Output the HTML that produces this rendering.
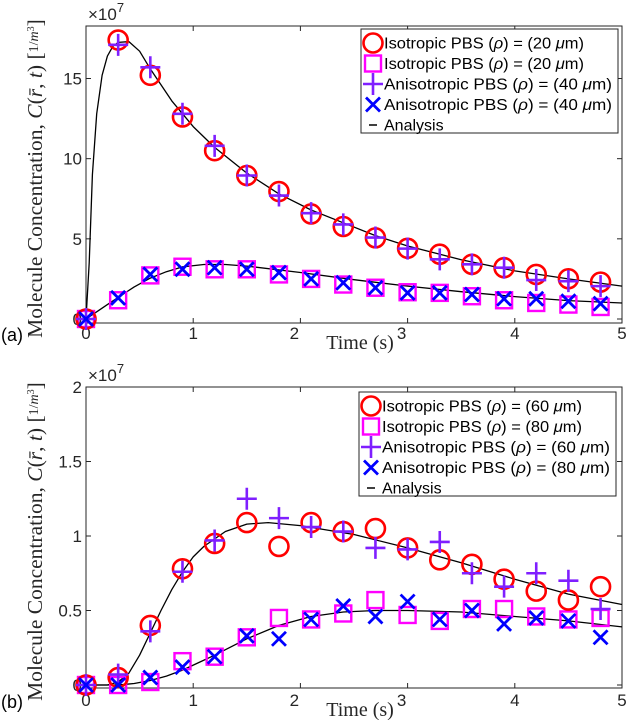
<!DOCTYPE html>
<html><head><meta charset="utf-8">
<style>
html,body{margin:0;padding:0;background:#fff;}
svg{display:block;font-family:"Liberation Sans",sans-serif;}
.tk{font-size:17px;fill:#262626;}
.lg{font-size:16px;fill:#000;}
.ser{font-family:"Liberation Serif","DejaVu Serif",serif;}
</style></head>
<body>
<svg id="chart" width="628" height="720" viewBox="0 0 628 720" xmlns="http://www.w3.org/2000/svg"></svg>
<script>
const times = [0,0.3,0.6,0.9,1.2,1.5,1.8,2.1,2.4,2.7,3.0,3.3,3.6,3.9,4.2,4.5,4.8];
// Panel (a) values in units of 1e7
const aIsoNear = [0,17.4,15.2,12.6,10.5,8.95,7.95,6.55,5.77,5.06,4.41,4.04,3.41,3.2,2.78,2.51,2.3];
const aIsoFar = [0,1.17,2.72,3.26,3.1,3.1,2.78,2.5,2.15,1.95,1.67,1.63,1.42,1.17,1.0,0.9,0.75];
const aAniNear = [0,17.1,15.7,12.8,10.8,8.95,7.7,6.6,5.9,5.08,4.39,3.72,3.41,3.2,2.43,2.36,2.05];
const aAniFar = [0,1.32,2.78,3.1,3.2,3.1,2.89,2.5,2.26,1.95,1.63,1.63,1.53,1.26,1.26,1.11,0.96];
const aCurveT = [0,0.03,0.06,0.1,0.15,0.2,0.25,0.3,0.4,0.5,0.6,0.8,1.0,1.2,1.5,1.8,2.1,2.4,2.7,3.0,3.5,4.0,4.5,5.0];
const aCurveNear = [0,3.5,9,12.8,15.2,16.4,17.0,17.25,17.3,16.7,15.6,13.6,12.0,10.7,9.1,7.8,6.8,6.0,5.2,4.55,3.7,3.0,2.5,2.05];
const aCurveFarT = [0,0.1,0.2,0.3,0.45,0.6,0.75,0.9,1.1,1.3,1.5,2.0,2.5,3.0,3.5,4.0,4.5,5.0];
const aCurveFar = [0,0.45,0.9,1.35,2.0,2.55,2.95,3.25,3.4,3.4,3.3,2.9,2.45,2.05,1.7,1.4,1.15,1.0];
const aYTicks = [0,5,10,15];
// Panel (b)
const bIsoNear = [0,0.05,0.4,0.78,0.95,1.09,0.93,1.09,1.03,1.05,0.92,0.84,0.81,0.71,0.63,0.57,0.66];
const bIsoFar = [0,0,0.02,0.16,0.19,0.32,0.45,0.44,0.48,0.57,0.47,0.43,0.51,0.51,0.46,0.44,0.45];
const bAniNear = [0,0.07,0.36,0.76,0.97,1.25,1.12,1.06,1.03,0.92,0.91,0.96,0.75,0.66,0.75,0.70,0.51];
const bAniFar = [0,0,0.05,0.12,0.19,0.33,0.31,0.44,0.53,0.46,0.56,0.44,0.5,0.41,0.45,0.43,0.32];
const bCurveT = [0,0.2,0.3,0.4,0.5,0.6,0.7,0.8,0.9,1.0,1.1,1.3,1.5,1.7,2.0,2.5,3.0,3.5,4.0,4.5,5.0];
const bCurveNear = [0,0.0,0.02,0.08,0.2,0.35,0.5,0.64,0.76,0.86,0.93,1.03,1.08,1.09,1.07,1.01,0.92,0.82,0.71,0.61,0.54];
const bCurveFarT = [0,0.3,0.45,0.6,0.75,0.9,1.05,1.2,1.5,1.8,2.1,2.4,2.7,3.0,3.5,4.0,4.5,5.0];
const bCurveFar = [0,0,0.01,0.03,0.06,0.1,0.15,0.2,0.31,0.4,0.46,0.49,0.5,0.5,0.49,0.46,0.43,0.39];
const bYTicks = [0,0.5,1,1.5,2];
const yTickLabelsB = ["0","0.5","1","1.5","2"];
const xTicks = [0,1,2,3,4,5];
const xTickLabels = ["0","1","2","3","4","5"];

const NS = "http://www.w3.org/2000/svg";
const svg = document.getElementById('chart');
function el(tag, attrs, parent, text){
  const e = document.createElementNS(NS, tag);
  for (const k in attrs) e.setAttribute(k, attrs[k]);
  if (text !== undefined) e.textContent = text;
  (parent||svg).appendChild(e);
  return e;
}

function panel(cfg){
  const g = el('g', {});
  
  
  const X = t => cfg.x0 + (t/5)*(cfg.x1-cfg.x0);
  const Y = v => cfg.yZero - (v/cfg.yMax)*(cfg.yZero-cfg.yTopVal);
  const box = el('rect', {x:cfg.x0, y:cfg.top, width:cfg.x1-cfg.x0, height:cfg.bottom-cfg.top, fill:'none', stroke:'#262626', 'stroke-width':1}, g);
  
  
  xTicks.forEach((t,i)=>{
    el('line',{x1:X(t),x2:X(t),y1:cfg.bottom,y2:cfg.bottom-5,stroke:'#262626'},g);
    el('line',{x1:X(t),x2:X(t),y1:cfg.top,y2:cfg.top+5,stroke:'#262626'},g);
    let dx = (t===2)?-6:(t===3)?-6:0;
    const lb = el('text',{x:X(t)+dx,y:cfg.bottom+cfg.xlabDy,'text-anchor':'middle',class:'tk'},g,xTickLabels[i]);
    
    
  });
  cfg.yTicks.forEach((v,i)=>{
    el('line',{x1:cfg.x0,x2:cfg.x0+5,y1:Y(v),y2:Y(v),stroke:'#262626'},g);
    el('line',{x1:cfg.x1,x2:cfg.x1-5,y1:Y(v),y2:Y(v),stroke:'#262626'},g);
    const lb = el('text',{x:cfg.x0-4,y:Y(v)+6,'text-anchor':'end',class:'tk'},g,cfg.yLabels[i]);
    
    
  });
  const ex = el('text',{x:cfg.x0+2,y:cfg.top-6,class:'tk'},g);
  
  
  ex.innerHTML = '×10<tspan dy="-8" font-size="13">7</tspan>';
  function curve(ts, vs, nm){
    const d = ts.map((t,i)=>(i?'L':'M')+X(t).toFixed(1)+','+Y(vs[i]).toFixed(1)).join(' ');
    const p = el('path',{d:d,fill:'none',stroke:'#000','stroke-width':1.3,'stroke-linejoin':'round'},g);
    
    
  }
  curve(cfg.cT1, cfg.c1, 'analysis-curve-near');
  curve(cfg.cT2, cfg.c2, 'analysis-curve-far');
  function markers(vals, type, nm){
    vals.forEach((v,i)=>{
      const m = drawMarker(g, type, X(times[i]), Y(v));
      
      
    });
  }
  markers(cfg.sq, 'sq', 'isotropic-far-point');
  markers(cfg.ci, 'ci', 'isotropic-near-point');
  markers(cfg.pl, 'pl', 'anisotropic-near-point');
  markers(cfg.xx, 'xx', 'anisotropic-far-point');
  const xl = el('text',{x:360,y:cfg.bottom+cfg.xlabDy+10,'text-anchor':'middle','font-size':'20',class:'ser',fill:'#262626'},g,'Time (s)');
  
  
  const cy = (cfg.top+cfg.bottom)/2 + 4;
  const yl = el('text',{x:0,y:0,'text-anchor':'middle','font-size':'21.5',class:'ser',fill:'#262626',transform:`translate(42,${cy}) rotate(-90)`},g);
  
  
  yl.innerHTML = 'Molecule Concentration, <tspan font-style="italic">C</tspan>(<tspan font-style="italic">r̄</tspan>, <tspan font-style="italic">t</tspan>) [<tspan font-size="14" dy="-4">1/</tspan><tspan font-size="14" font-style="italic">m</tspan><tspan font-size="10" dy="-4">3</tspan><tspan dy="8">]</tspan>';
  const pl = el('text',{x:1,y:cfg.bottom+cfg.xlabDy+2,'font-size':'18',fill:'#000'},g,cfg.tag);
  
  
  const lg = el('g',{},g);
  
  
  el('rect',{x:cfg.lx,y:cfg.ly,width:257,height:104,fill:'#fff',stroke:'#262626','stroke-width':1},lg);
  const types = ['ci','sq','pl','xx'];
  cfg.leg.forEach((txt,i)=>{
    const yy = cfg.ly+14+i*20.5;
    if (i<4) drawMarker(lg, types[i], cfg.lx+12, yy);
    else el('line',{x1:cfg.lx+8,x2:cfg.lx+16,y1:yy,y2:yy,stroke:'#000','stroke-width':1.5},lg);
    const t = el('text',{x:cfg.lx+23,y:yy+5.5,class:'lg',textLength:(i<2?200:228),lengthAdjust:'spacingAndGlyphs'},lg);
    if (i===4) t.removeAttribute('textLength');
    
    
    t.innerHTML = txt;
  });
}
function drawMarker(g, type, x, y){
  if (type==='ci') return el('circle',{cx:x,cy:y,r:9.5,fill:'none',stroke:'#f00','stroke-width':2.6},g);
  if (type==='sq') return el('rect',{x:x-8,y:y-8,width:16,height:16,fill:'none',stroke:'#f0f','stroke-width':2.4},g);
  if (type==='pl') return el('path',{d:`M${x-10},${y}H${x+10}M${x},${y-11}V${y+11}`,fill:'none',stroke:'#7f1fff','stroke-width':2.6},g);
  return el('path',{d:`M${x-7},${y-7}L${x+7},${y+7}M${x-7},${y+7}L${x+7},${y-7}`,fill:'none',stroke:'#0000ff','stroke-width':2.8},g);
}
const rho = '(<tspan font-style="italic">ρ</tspan>)';
panel({name:'panel-a', tag:'(a)', x0:86, x1:622, top:26, bottom:323, yZero:319, yMax:15, yTopVal:78.5,
  yTicks:aYTicks, yLabels:aYTicks.map(String), xlabDy:16,
  cT1:aCurveT, c1:aCurveNear, cT2:aCurveFarT, c2:aCurveFar,
  ci:aIsoNear, sq:aIsoFar, pl:aAniNear, xx:aAniFar, lx:361, ly:29,
  leg:['Isotropic PBS '+rho+' = (20 <tspan font-style="italic">μ</tspan>m)','Isotropic PBS '+rho+' = (20 <tspan font-style="italic">μ</tspan>m)','Anisotropic PBS '+rho+' = (40 <tspan font-style="italic">μ</tspan>m)','Anisotropic PBS '+rho+' = (40 <tspan font-style="italic">μ</tspan>m)','Analysis']});
panel({name:'panel-b', tag:'(b)', x0:86, x1:622, top:387, bottom:688, yZero:685, yMax:2, yTopVal:387,
  yTicks:bYTicks, yLabels:yTickLabelsB, xlabDy:18,
  cT1:bCurveT, c1:bCurveNear, cT2:bCurveFarT, c2:bCurveFar,
  ci:bIsoNear, sq:bIsoFar, pl:bAniNear, xx:bAniFar, lx:359, ly:392,
  leg:['Isotropic PBS '+rho+' = (60 <tspan font-style="italic">μ</tspan>m)','Isotropic PBS '+rho+' = (80 <tspan font-style="italic">μ</tspan>m)','Anisotropic PBS '+rho+' = (60 <tspan font-style="italic">μ</tspan>m)','Anisotropic PBS '+rho+' = (80 <tspan font-style="italic">μ</tspan>m)','Analysis']});
</script>
</body></html>
